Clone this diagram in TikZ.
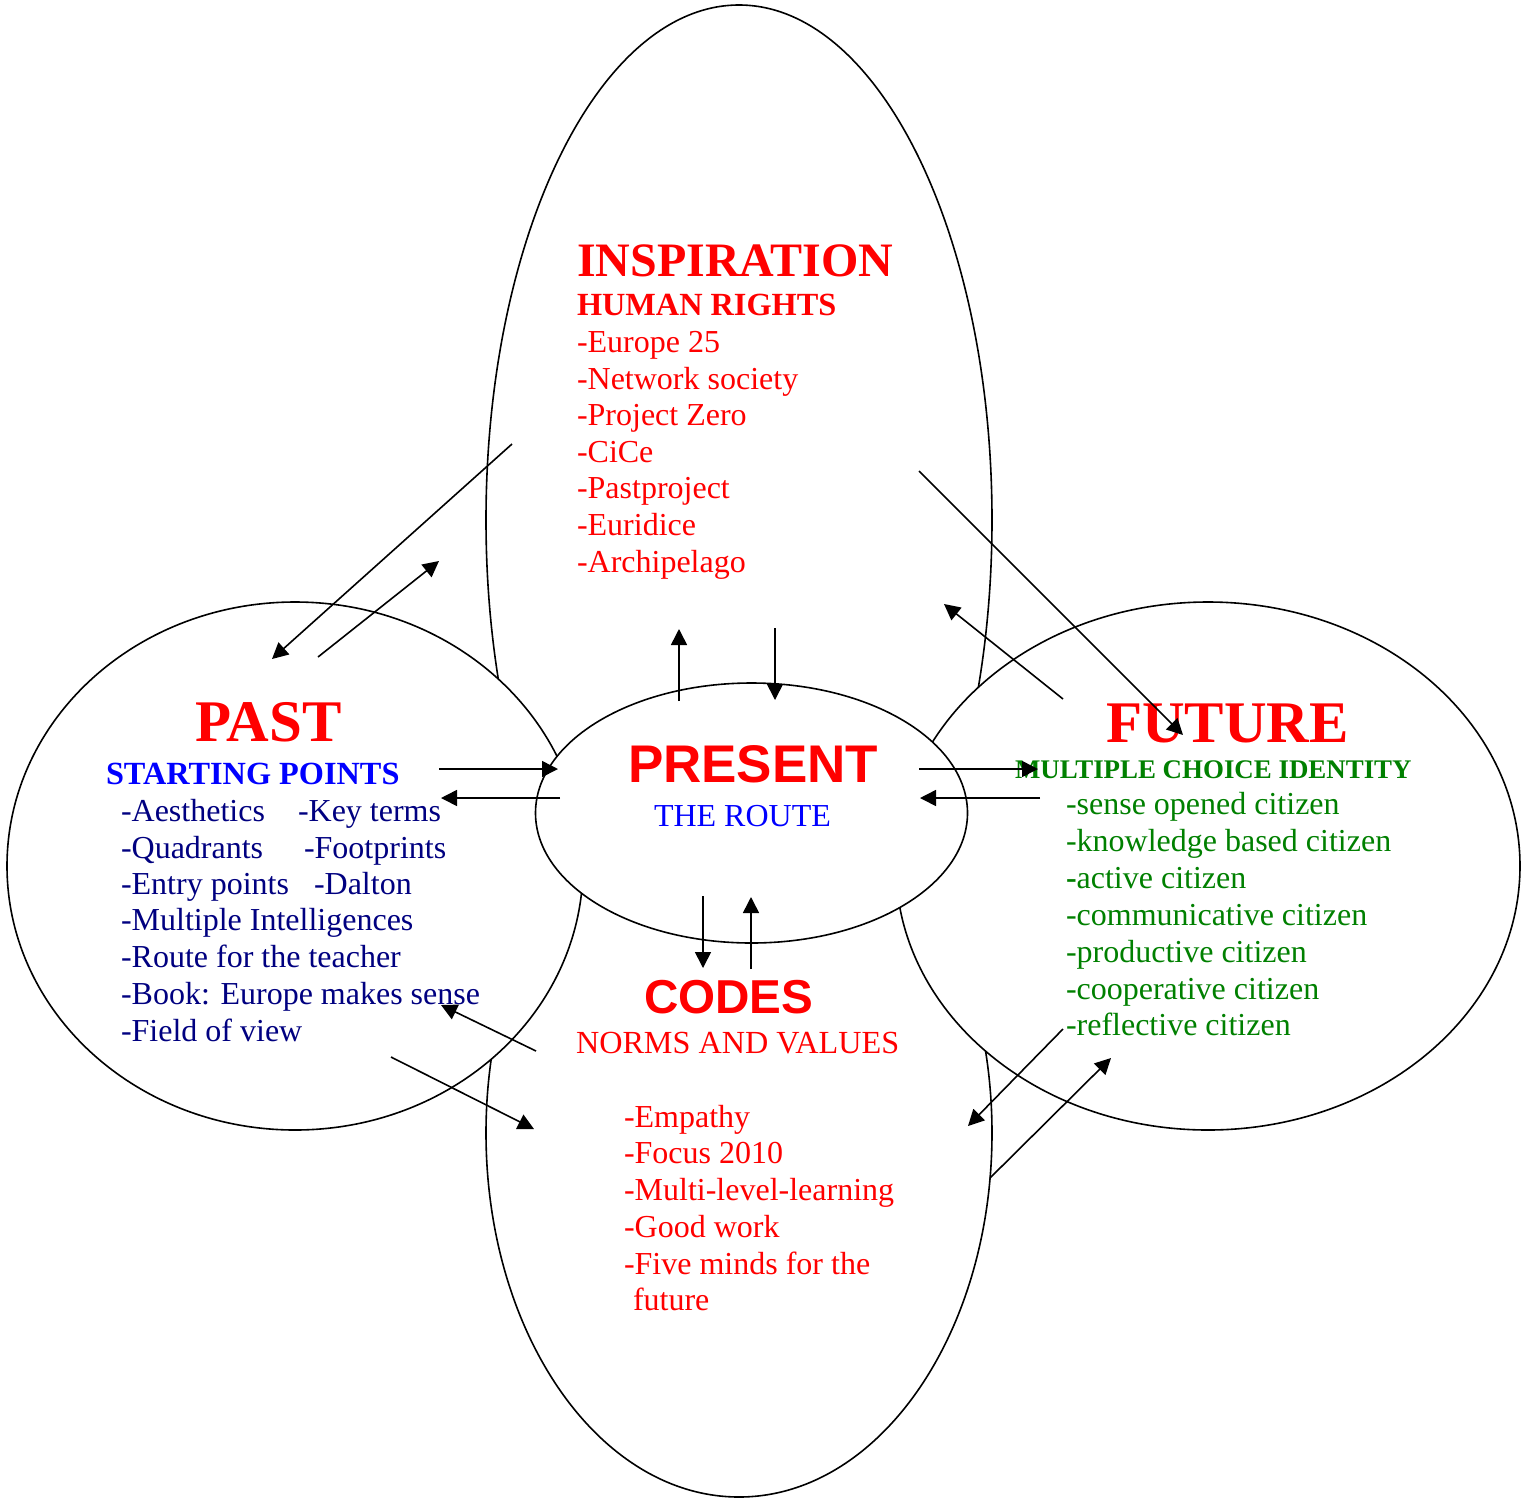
\documentclass[tikz,border=0pt]{standalone}
\usepackage{fontspec}
\setmainfont{Liberation Serif}
\newfontfamily\arialfont{Liberation Sans}
\usetikzlibrary{arrows.meta}
\definecolor{myred}{RGB}{255,0,0}
\definecolor{myblue}{RGB}{0,0,255}
\definecolor{mynavy}{RGB}{0,0,128}
\definecolor{mygreen}{RGB}{0,128,0}
\begin{document}
\begin{tikzpicture}[x=0.5pt,y=-0.5pt,
  blob/.style={draw=black, line width=0.8pt, fill=white},
  txt/.style={anchor=base west, inner sep=0pt, outer sep=0pt},
  body/.style={txt, font=\fontsize{16}{19}\selectfont},
  bigserif/.style={txt, text=myred, font=\bfseries\fontsize{29.5}{34}\selectfont},
  bigsans/.style={txt, text=myred, font=\arialfont\bfseries\fontsize{#1}{30}\selectfont},
  subhead/.style={txt, font=\bfseries\fontsize{16.15}{19}\selectfont},
  arr/.style={draw=black, line width=0.8pt, -{Triangle[length=8pt,width=8pt]}},
]
\useasboundingbox (0,0) rectangle (1527,1506);
\fill[white] (0,0) rectangle (1527,1506);

% ellipses (drawn in stacking order)
\path[blob] (739,520) ellipse [x radius=253, y radius=515];
\path[blob] (739,1133) ellipse [x radius=253, y radius=364];
\path[blob] (295,866) ellipse [x radius=288, y radius=264];
\path[blob] (1208,866) ellipse [x radius=312, y radius=264];
\path[blob] (751.5,813) ellipse [x radius=216, y radius=130];

% INSPIRATION
\node[txt, text=myred, font=\bfseries\fontsize{24}{28}\selectfont] (insp) at (577,276) {INSPIRATION};
\node[subhead, text=myred] (hr) at (577,315) {HUMAN RIGHTS};
\begin{scope}[every node/.style={body, text=myred}]
\node (i1) at (577,352) {-Europe 25};
\node (i2) at (577,389) {-Network society};
\node (i3) at (577,425) {-Project Zero};
\node (i4) at (577,462) {-CiCe};
\node (i5) at (577,498) {-Pastproject};
\node (i6) at (577,535) {-Euridice};
\node (i7) at (577,572) {-Archipelago};
\end{scope}

% PAST
\node[bigserif] (past) at (195,741) {PAST};
\node[subhead, text=myblue] (sp) at (106,784) {STARTING POINTS};
\begin{scope}[every node/.style={body, text=mynavy}]
\node (p1) at (121,821) {-Aesthetics};
\node (p1b) at (298,821) {-Key terms};
\node (p2) at (121,858) {-Quadrants};
\node (p2b) at (304,858) {-Footprints};
\node (p3) at (121,894) {-Entry points};
\node (p3b) at (314,894) {-Dalton};
\node (p4) at (121,930) {-Multiple Intelligences};
\node (p5) at (121,967) {-Route for the teacher};
\node (p6) at (121,1004) {-Book: Europe makes sense};
\node (p7) at (121,1041) {-Field of view};
\end{scope}

% FUTURE
\node[bigserif] (fut) at (1106,742) {FUTURE};
\node[txt, text=mygreen, font=\bfseries\fontsize{13.45}{16}\selectfont] (mci) at (1015,778) {MULTIPLE CHOICE IDENTITY};
\begin{scope}[every node/.style={body, text=mygreen}]
\node (f1) at (1066,814) {-sense opened citizen};
\node (f2) at (1066,851) {-knowledge based citizen};
\node (f3) at (1066,888) {\textbf{-}active citizen};
\node (f4) at (1066,925) {-communicative citizen};
\node (f5) at (1066,962) {-productive citizen};
\node (f6) at (1066,999) {-cooperative citizen};
\node (f7) at (1066,1035) {-reflective citizen};
\end{scope}

% PRESENT
\node[bigsans=26.5] (pres) at (628,782) {PRESENT};
\node[body, text=myblue] (route) at (654,826) {THE ROUTE};

% CODES
\node[bigsans=23.8] (codes) at (644,1013) {CODES};
\node[body, text=myred, font=\fontsize{16.1}{19}\selectfont] (nv) at (576,1053) {NORMS AND VALUES};
\begin{scope}[every node/.style={body, text=myred}]
\node (c1) at (624,1127) {-Empathy};
\node (c2) at (624,1163) {-Focus 2010};
\node (c3) at (624,1200) {-Multi-level-learning};
\node (c4) at (624,1237) {-Good work};
\node (c5) at (624,1274) {-Five minds for the};
\node (c6) at (633,1310) {future};
\end{scope}

% arrow end points
\coordinate (a1s) at (512,444);  \coordinate (a1e) at (272,659);
\coordinate (a2s) at (318,657);  \coordinate (a2e) at (439,561);
\coordinate (a3s) at (919,471);  \coordinate (a3e) at (1183,735);
\coordinate (a4s) at (1063,699); \coordinate (a4e) at (944,604);
\coordinate (a5s) at (679,701);  \coordinate (a5e) at (679,629);
\coordinate (a6s) at (775,628);  \coordinate (a6e) at (775,700);
\coordinate (a7s) at (439,769);  \coordinate (a7e) at (558,769);
\coordinate (a8s) at (560,798);  \coordinate (a8e) at (441,798);
\coordinate (a9s) at (919,769);  \coordinate (a9e) at (1038,769);
\coordinate (a10s) at (1040,798); \coordinate (a10e) at (920,798);
\coordinate (a11s) at (703,896); \coordinate (a11e) at (703,968);
\coordinate (a12s) at (751,969); \coordinate (a12e) at (751,897);
\coordinate (a13s) at (536,1051); \coordinate (a13e) at (441,1005);
\coordinate (a14s) at (391,1057); \coordinate (a14e) at (534,1129);
\coordinate (a15s) at (1063,1029); \coordinate (a15e) at (968,1126);
\coordinate (a16s) at (990,1178); \coordinate (a16e) at (1111,1058);

\foreach \i in {1,...,16} {\draw[arr] (a\i s) -- (a\i e);}
\end{tikzpicture}
\end{document}
